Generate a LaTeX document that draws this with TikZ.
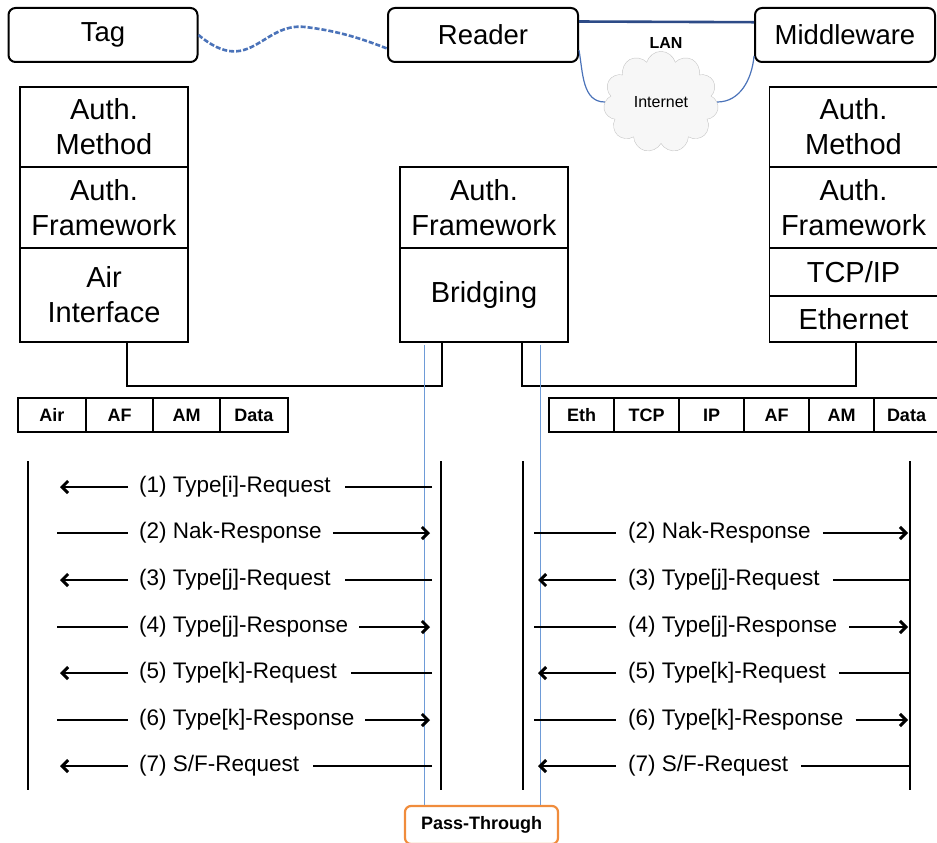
\documentclass[tikz,border=0pt]{standalone}
\usepackage{fontspec}
\setmainfont{Liberation Sans}
\usepackage{xcolor}
\usetikzlibrary{arrows.meta, positioning, shapes.symbols}
\definecolor{linkblue}{RGB}{75,115,185}
\definecolor{lanblue}{RGB}{45,75,135}
\definecolor{passblue}{RGB}{110,155,215}
\definecolor{passorange}{RGB}{240,140,60}
\tikzset{
  entity/.style = {draw, rounded corners=7pt, line width=2pt,
                   minimum height=54pt, inner sep=0pt,
                   font=\fontsize{27.5}{30}\selectfont},
  layer/.style  = {draw, line width=1.8pt, outer sep=0pt, inner sep=0pt,
                   minimum width=168pt, align=center,
                   font=\fontsize{29}{35}\selectfont},
  cell/.style   = {draw, line width=1.8pt, outer sep=0pt, inner sep=0pt,
                   minimum width=65pt, minimum height=34pt,
                   font=\bfseries\fontsize{18}{20}\selectfont},
  msg/.style    = {anchor=west, inner sep=0pt,
                   font=\fontsize{22.5}{26}\selectfont},
  msgline/.style  = {line width=2pt},
  msgarrow/.style = {line width=2pt,
                     -{Straight Barb[length=6pt,width=12pt,line width=3pt]}},
  lifeline/.style = {line width=2.2pt},
  link/.style     = {line width=2pt},
  passline/.style = {draw=passblue, line width=0.9pt},
}
\begin{document}
\begin{tikzpicture}[x=1pt, y=-1pt]
\useasboundingbox (0,0) rectangle (937,843);

% entities
\node (tag)    [entity, minimum width=189pt] at (103,35) {Tag};
\node (reader) [entity, minimum width=190pt] at (483,35) {Reader};
\node (mw)     [entity, minimum width=180pt] at (845,35) {Middleware};
\node (cloud)  [cloud, cloud puffs=11, draw=gray!45, fill=gray!6,
                minimum width=115pt, minimum height=58pt,
                font=\fontsize{16}{18}\selectfont] at (661,102) {Internet};
\node (lan) [font=\bfseries\fontsize{16}{18}\selectfont] at (666,43) {LAN};

\draw [linkblue, line width=2.6pt, dash pattern=on 5pt off 2pt]
      (tag.east) .. controls (250,78) and (262,22) .. (305,27)
                 .. controls (340,31) and (365,40) .. (reader.188);
\draw [lanblue, line width=2.6pt] (reader.8) -- (mw.172);
\draw [linkblue, line width=1.2pt] (reader.-9) to[out=-80, in=180] (cloud.west);
\draw [linkblue, line width=1.2pt] (cloud.east) to[out=0, in=-95] (mw.-167);

% tag stack
\node (tam) [layer, minimum height=80pt] at (104,127) {Auth.\\Method};
\node (taf) [layer, minimum height=81pt, below=0pt of tam] {Auth.\\Framework};
\node (air) [layer, minimum height=94pt, below=0pt of taf] {Air\\Interface};

% reader stack
\node (raf)    [layer, minimum height=81pt] at (484,207.5) {Auth.\\Framework};
\node (bridge) [layer, minimum height=94pt, below=0pt of raf] {Bridging};

% middleware stack
\node (mam) [layer, minimum height=80pt] at (853.5,127) {Auth.\\Method};
\node (maf) [layer, minimum height=81pt, below=0pt of mam] {Auth.\\Framework};
\node (tcp) [layer, minimum height=48pt, below=0pt of maf] {TCP/IP};
\node (eth) [layer, minimum height=46pt, below=0pt of tcp] {Ethernet};

\draw [link] ([xshift=23pt]air.south) -- ++(0,44) -| ([xshift=-42pt]bridge.south);
\draw [link] ([xshift=38pt]bridge.south) -- ++(0,44) -| ([xshift=2pt]eth.south);

% frame formats
\node (h1) [cell, minimum width=68pt] at (52,415) {Air};
\node (h2) [cell, minimum width=67pt, right=0pt of h1] {AF};
\node (h3) [cell, minimum width=67pt, right=0pt of h2] {AM};
\node (h4) [cell, minimum width=68pt, right=0pt of h3] {Data};

\node (e1) [cell] at (581.5,415) {Eth};
\node (e2) [cell, right=0pt of e1] {TCP};
\node (e3) [cell, right=0pt of e2] {IP};
\node (e4) [cell, right=0pt of e3] {AF};
\node (e5) [cell, right=0pt of e4] {AM};
\node (e6) [cell, right=0pt of e5] {Data};

% pass-through
\node (pass) [draw=passorange, line width=2.2pt, rounded corners=6pt,
              minimum width=153pt, minimum height=38pt,
              font=\bfseries\fontsize{18}{20}\selectfont] at (481.5,825) {Pass-Through};
\draw [passline] ([xshift=-60pt,yshift=-3pt]bridge.south) -- ([xshift=-60pt]bridge.south |- pass.north);
\draw [passline] ([xshift=56pt,yshift=-3pt]bridge.south) -- ([xshift=56pt]bridge.south |- pass.north);

% lifelines
\foreach \x in {28,441,523,910}
  \draw [lifeline] (\x,461) -- (\x,790);

% messages, tag side
\foreach \y/\n/\d/\txt in {487/1/0/{(1) Type[i]-Request},
                           533/2/1/{(2) Nak-Response},
                           580/3/0/{(3) Type[j]-Request},
                           627/4/1/{(4) Type[j]-Response},
                           673/5/0/{(5) Type[k]-Request},
                           720/6/1/{(6) Type[k]-Response},
                           766/7/0/{(7) S/F-Request}}{
  \node (L\n) [msg] at (139,\y) {\txt};
  \ifnum\d=0
    \draw [msgline] (432,\y) -- ([xshift=14pt]L\n.east);
    \draw [msgarrow] ([xshift=-11pt]L\n.west) -- (60,\y);
  \else
    \draw [msgline] (57,\y) -- ([xshift=-11pt]L\n.west);
    \draw [msgarrow] ([xshift=11pt]L\n.east) -- (430,\y);
  \fi
}

% messages, middleware side
\foreach \y/\n/\d/\txt in {533/2/1/{(2) Nak-Response},
                           580/3/0/{(3) Type[j]-Request},
                           627/4/1/{(4) Type[j]-Response},
                           673/5/0/{(5) Type[k]-Request},
                           720/6/1/{(6) Type[k]-Response},
                           766/7/0/{(7) S/F-Request}}{
  \node (R\n) [msg] at (628,\y) {\txt};
  \ifnum\d=0
    \draw [msgline] (910,\y) -- ([xshift=13pt]R\n.east);
    \draw [msgarrow] ([xshift=-12pt]R\n.west) -- (538,\y);
  \else
    \draw [msgline] (534,\y) -- ([xshift=-12pt]R\n.west);
    \draw [msgarrow] ([xshift=12pt]R\n.east) -- (908,\y);
  \fi
}
\end{tikzpicture}
\end{document}
